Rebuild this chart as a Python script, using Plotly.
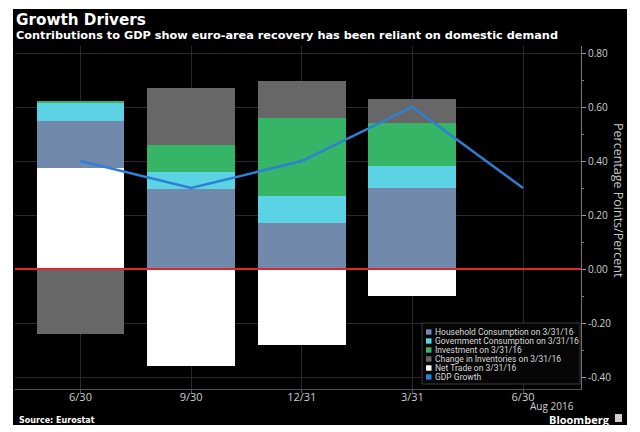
import plotly.graph_objects as go

# ---- data ----
quarters = ["6/30", "9/30", "12/31", "3/31", "6/30"]
x_idx = [0, 1, 2, 3, 4]
net_trade = [0.374, -0.359, -0.281, -0.10]
household = [0.175, 0.297, 0.169, 0.299]
government = [0.067, 0.062, 0.101, 0.082]
investment = [0.005, 0.100, 0.288, 0.159]
inventories = [-0.24, 0.210, 0.140, 0.090]
gdp_growth = [0.40, 0.30, 0.40, 0.60, 0.30]

y_tickvals = [0.8, 0.6, 0.4, 0.2, 0.0, -0.2, -0.4]
y_ticktext = ["0.80", "0.60", "0.40", "0.20", "0.00", "-0.20", "-0.40"]

legend_labels = ["Household Consumption on 3/31/16", "Government Consumption on 3/31/16",
                 "Investment on 3/31/16", "Change in Inventories on 3/31/16",
                 "Net Trade on 3/31/16", "GDP Growth"]

C_HH = "#7189ab"
C_GOV = "#5cd3e4"
C_INV = "#35b565"
C_STK = "#676767"
C_NT = "#ffffff"
C_GDP = "#2e7fd6"
legend_colors = [C_HH, C_GOV, C_INV, C_STK, C_NT, C_GDP]

# ---- geometry (pixels) ----
W, H = 640, 432
L, R, T, B = 15, 581, 46, 389
PW, PH = R - L, B - T


def px(x):
    return (x - L) / PW


def py(y):
    return (B - y) / PH


BW = 0.795
bx = x_idx[:4]
fig = go.Figure()
for name, vals, col in [("Net Trade on 3/31/16", net_trade, C_NT),
                        ("Household Consumption on 3/31/16", household, C_HH),
                        ("Government Consumption on 3/31/16", government, C_GOV),
                        ("Investment on 3/31/16", investment, C_INV),
                        ("Change in Inventories on 3/31/16", inventories, C_STK)]:
    fig.add_trace(go.Bar(x=bx, y=vals, name=name, width=BW,
                         marker=dict(color=col, line=dict(width=0)), showlegend=False))

fig.add_trace(go.Scatter(x=x_idx, y=gdp_growth, mode="lines", name="GDP Growth",
                         line=dict(color=C_GDP, width=2.5), showlegend=False))

shapes = []
# black background panel
shapes.append(dict(type="rect", xref="paper", yref="paper", x0=px(13), x1=px(627),
                   y0=py(425), y1=py(9), fillcolor="#000000", line=dict(width=0), layer="below"))
# zero line
shapes.append(dict(type="line", xref="paper", yref="y", x0=0, x1=1, y0=0, y1=0,
                   line=dict(color="#e3262e", width=2), layer="above"))
# legend box
shapes.append(dict(type="rect", xref="paper", yref="paper", x0=px(422), x1=px(580),
                   y0=py(384), y1=py(323), fillcolor="#060606",
                   line=dict(color="#3a3a3a", width=1), layer="above"))
annotations = []
for i, (lab, col) in enumerate(zip(legend_labels, legend_colors)):
    yc = 332 + 9 * i
    shapes.append(dict(type="rect", xref="paper", yref="paper", x0=px(426), x1=px(431.5),
                       y0=py(yc + 2.7), y1=py(yc - 2.7), fillcolor=col,
                       line=dict(width=0), layer="above"))
    annotations.append(dict(text=lab, xref="paper", yref="paper", x=px(433), y=py(yc),
                            xanchor="left", yanchor="middle", showarrow=False,
                            font=dict(family="Roboto", size=8.5, color="#d8d8d8")))
# Bloomberg icon
shapes.append(dict(type="rect", xref="paper", yref="paper", x0=px(615), x1=px(622),
                   y0=py(422), y1=py(414), fillcolor="#d0d0d0", line=dict(width=0), layer="above"))

annotations += [
    dict(text="<b>Growth Drivers</b>", x=px(14), y=py(20), xanchor="left", yanchor="middle",
         font=dict(family="DejaVu Sans", size=15.2, color="#ffffff")),
    dict(text="<b>Contributions to GDP show euro-area recovery has been reliant on domestic demand</b>",
         x=px(14), y=py(35.5), xanchor="left", yanchor="middle",
         font=dict(family="DejaVu Sans", size=11.3, color="#ffffff")),
    dict(text="Percentage Points/Percent", x=px(619), y=py(200), xanchor="center", yanchor="middle",
         textangle=90, font=dict(family="Open Sans", size=12.5, color="#c8c8c8")),
    dict(text="Aug 2016", x=px(552), y=py(406), xanchor="center", yanchor="middle",
         font=dict(family="Open Sans", size=10, color="#cfcfcf")),
    dict(text="<b>Source: Eurostat</b>", x=px(17), y=py(420), xanchor="left", yanchor="middle",
         font=dict(family="DejaVu Sans", size=8, color="#ffffff")),
    dict(text="<b>Bloomberg</b>", x=px(612), y=py(419.5), xanchor="right", yanchor="middle",
         font=dict(family="Open Sans", size=11, color="#ffffff")),
]
for a in annotations:
    a.setdefault("xref", "paper")
    a.setdefault("yref", "paper")
    a["showarrow"] = False

ymin = (269 - B) / 270.0
ymax = (269 - T) / 270.0
fig.update_layout(
    width=W, height=H,
    margin=dict(l=L, r=W - R, t=T, b=H - B, pad=0),
    paper_bgcolor="#ffffff", plot_bgcolor="#000000",
    barmode="relative", bargap=0,
    shapes=shapes, annotations=annotations,
    xaxis=dict(range=[-0.592, 4.524], tickvals=x_idx, ticktext=quarters,
               showgrid=True, gridcolor="#2a2a2a", gridwidth=1, zeroline=False,
               showline=True, linecolor="#555555", linewidth=1,
               ticks="outside", ticklen=3, tickcolor="#555555", ticklabelstandoff=-5,
               tickfont=dict(family="Open Sans", size=11, color="#cfcfcf")),
    yaxis=dict(range=[ymin, ymax], side="right", tickvals=y_tickvals, ticktext=y_ticktext,
               showgrid=True, gridcolor="#2a2a2a", gridwidth=1, zeroline=False,
               showline=True, linecolor="#777777", linewidth=1,
               ticks="outside", ticklen=4, tickcolor="#999999",
               minor=dict(dtick=0.1, ticks="outside", ticklen=2, tickcolor="#777777", showgrid=False),
               tickfont=dict(family="Open Sans", size=10, color="#cfcfcf")),
    showlegend=False,
)
fig.write_html("out.html", config={"displayModeBar": False},
               post_script="document.body.style.margin='0';document.body.style.padding='0';")
